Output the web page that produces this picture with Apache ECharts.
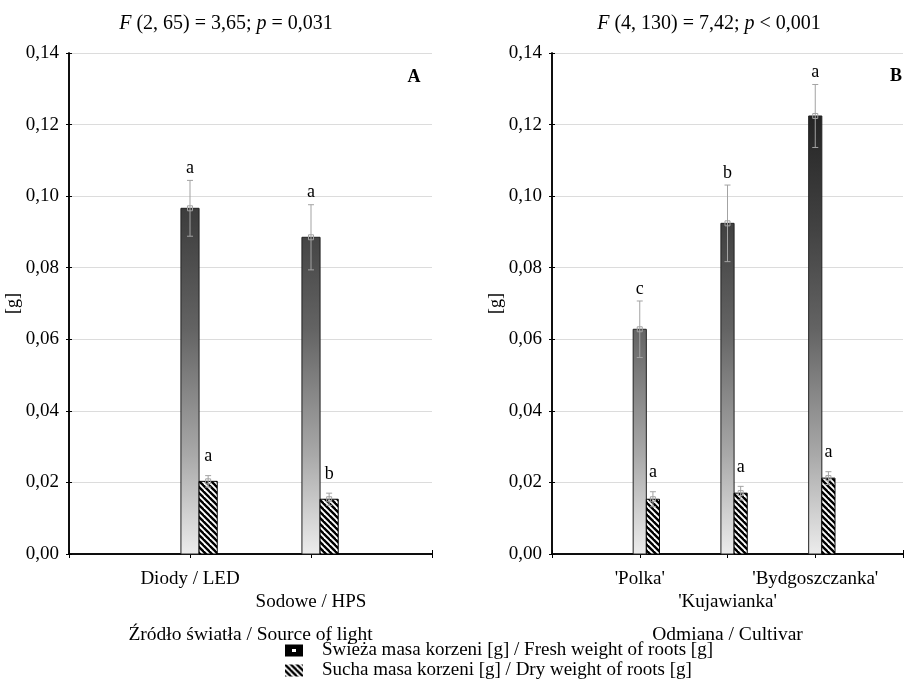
<!DOCTYPE html>
<html>
<head>
<meta charset="utf-8">
<script src="https://cdn.jsdelivr.net/npm/echarts@6/dist/echarts.min.js"></script>
<style>html,body{margin:0;padding:0;background:#fff;}#c{width:906px;height:686px;}</style>
</head>
<body>
<div id="c"></div>
<script>
// ---------- data ----------
const yTickValues = [0, 0.02, 0.04, 0.06, 0.08, 0.10, 0.12, 0.14];
const yTickLabels = ['0,00', '0,02', '0,04', '0,06', '0,08', '0,10', '0,12', '0,14'];

const catsA = ['Diody / LED', 'Sodowe / HPS'];
const freshA = [0.0966, 0.0885];
const freshErrA = [0.0078, 0.0091];
const dryA = [0.0203, 0.0153];
const dryErrA = [0.0016, 0.0017];
const freshLettersA = ['a', 'a'];
const dryLettersA = ['a', 'b'];

const catsB = ["'Polka'", "'Kujawianka'", "'Bydgoszczanka'"];
const freshB = [0.0628, 0.0924, 0.1224];
const freshErrB = [0.0079, 0.0107, 0.0088];
const dryB = [0.0153, 0.0170, 0.0212];
const dryErrB = [0.0021, 0.0019, 0.0018];
const freshLettersB = ['c', 'b', 'a'];
const dryLettersB = ['a', 'a', 'a'];

const seriesFreshName = 'Świeża masa korzeni [g] / Fresh weight of roots [g]';
const seriesDryName = 'Sucha masa korzeni [g] / Dry weight of roots [g]';
const titleA = '{i|F} (2, 65) = 3,65; {i|p} = 0,031';
const titleB = '{i|F} (4, 130) = 7,42; {i|p} < 0,001';
const xNameA = 'Źródło światła / Source of light';
const xNameB = 'Odmiana / Cultivar';

// ---------- styling ----------
const FONT = 'Liberation Serif';
const Y_MAX = 0.14;
const BAR_UNITS = 0.15;

const hatch = document.createElement('canvas');
hatch.width = 6; hatch.height = 6;
(function () {
  const g = hatch.getContext('2d');
  g.fillStyle = '#fff'; g.fillRect(0, 0, 6, 6);
  g.strokeStyle = '#000'; g.lineWidth = 2.4;
  [-6, 0, 6].forEach(k => { g.beginPath(); g.moveTo(k - 1, -1); g.lineTo(k + 7, 7); g.stroke(); });
})();
const hatchFill = { image: hatch, repeat: 'repeat' };
const gradStops = [
  { offset: 0, color: '#141414' },
  { offset: 0.35, color: '#424242' },
  { offset: 0.55, color: '#636363' },
  { offset: 0.8, color: '#a8a8a8' },
  { offset: 1, color: '#ececec' }
];

function makeRender(kind, letters) {
  return function (params, api) {
    const x = api.value(0), v = api.value(1), e = api.value(2);
    const w = api.size([BAR_UNITS, 0])[0];
    const base = api.coord([x, 0]);
    const cx = base[0] + (kind === 'dry' ? w : 0);
    const y0 = base[1];
    const yv = api.coord([x, v])[1];
    const yHi = api.coord([x, v + e])[1];
    const yLo = api.coord([x, v - e])[1];
    const yTop = api.coord([x, Y_MAX])[1];
    const fill = kind === 'fresh'
      ? new echarts.graphic.LinearGradient(0, yTop, 0, y0, gradStops, true)
      : hatchFill;
    const ec = '#a3a3a3';
    const cap = 3;
    const sq = 2.5;
    return {
      type: 'group',
      children: [
        { type: 'rect', shape: { x: cx - w / 2, y: yv, width: w, height: y0 - yv },
          style: { fill: fill, stroke: kind === 'fresh' ? '#222' : '#000', lineWidth: 1 } },
        { type: 'line', shape: { x1: cx, y1: yHi, x2: cx, y2: yLo }, style: { stroke: ec, lineWidth: 1 } },
        { type: 'line', shape: { x1: cx - cap, y1: yHi, x2: cx + cap, y2: yHi }, style: { stroke: ec, lineWidth: 1 } },
        { type: 'line', shape: { x1: cx - cap, y1: yLo, x2: cx + cap, y2: yLo }, style: { stroke: ec, lineWidth: 1 } },
        { type: 'rect', shape: { x: cx - sq, y: yv - sq, width: 2 * sq, height: 2 * sq },
          style: { fill: 'none', stroke: ec, lineWidth: 1 } },
        { type: 'text', x: cx, y: yHi - (kind === 'fresh' ? 12 : 19),
          style: { text: letters[params.dataIndex], fill: '#000', font: '18px "' + FONT + '"',
                   textAlign: 'center', textVerticalAlign: 'middle' } }
      ]
    };
  };
}

function xLabel(cats) {
  return function (val) {
    const i = Math.round(val) - 1;
    if (i < 0 || i >= cats.length) return '';
    return (i % 2 === 1 ? '\n' : '') + cats[i];
  };
}

function yAxes(gridIndex, nameGap) {
  return [
    { type: 'value', gridIndex, min: 0, max: Y_MAX, interval: 0.02, position: 'left',
      name: '[g]', nameLocation: 'middle', nameGap: nameGap, nameRotate: 90,
      nameTextStyle: { fontFamily: FONT, fontSize: 18, color: '#000' },
      axisLine: { show: true, lineStyle: { color: '#000', width: 1.5 } },
      axisTick: { show: true, length: 3, lineStyle: { color: '#000' } },
      axisLabel: { margin: 10, fontFamily: FONT, fontSize: 19, color: '#000',
        formatter: v => yTickLabels[yTickValues.findIndex(t => Math.abs(t - v) < 1e-9)] },
      splitLine: { show: true, lineStyle: { color: '#dcdcdc', width: 1 } } },
    { type: 'value', gridIndex, min: 0, max: Y_MAX, interval: 0.02, position: 'right',
      axisLine: { show: true, lineStyle: { color: '#000', width: 1.5 } },
      axisTick: { show: true, length: 3, lineStyle: { color: '#000' } },
      axisLabel: { show: false }, splitLine: { show: false } }
  ];
}

function xAxes(gridIndex, cats, name) {
  const max = cats.length + 1;
  return [
    { type: 'value', gridIndex, min: 0, max: max, interval: 1, position: 'bottom',
      name: name, nameLocation: 'middle', nameGap: 71,
      nameTextStyle: { fontFamily: FONT, fontSize: 19.5, color: '#000' },
      axisLine: { show: true, lineStyle: { color: '#000', width: 1.5 } },
      axisTick: { show: true, inside: true, length: 4, lineStyle: { color: '#000' } },
      axisLabel: { margin: 14, fontFamily: FONT, fontSize: 19, lineHeight: 23, color: '#000',
        formatter: xLabel(cats), showMinLabel: true, showMaxLabel: true },
      splitLine: { show: false } },
    { type: 'value', gridIndex, min: 0, max: max, interval: 1, position: 'top',
      axisLine: { show: true, lineStyle: { color: '#000', width: 1.5 } },
      axisTick: { show: true, inside: true, length: 4, lineStyle: { color: '#000' } },
      axisLabel: { show: false }, splitLine: { show: false } }
  ];
}

const legendText = { fontFamily: FONT, fontSize: 19, color: '#000', padding: [0, 0, 0, 14] };

const chart = echarts.init(document.getElementById('c'), null, { renderer: 'canvas' });

const option = {
  backgroundColor: '#fff',
  animation: false,
  grid: [
    { left: 69, top: 53, width: 363, height: 501 },
    { left: 552, top: 53, width: 362, height: 501 }
  ],
  xAxis: [].concat(xAxes(0, catsA, xNameA), xAxes(1, catsB, xNameB)),
  yAxis: [].concat(yAxes(0, 40), yAxes(1, 42)),
  legend: [
    { left: 285, top: 641, padding: 0, itemWidth: 18, itemHeight: 12, textStyle: legendText,
      data: [{ name: seriesFreshName, icon: 'path://M0,0L18,0L18,12L0,12Z M7,4.5L7,7.5L11,7.5L11,4.5Z',
        itemStyle: { color: '#000' } }] },
    { left: 285, top: 661, padding: 0, itemWidth: 18, itemHeight: 12, textStyle: legendText,
      data: [{ name: seriesDryName, icon: 'rect', itemStyle: { color: hatchFill } }] }
  ],
  graphic: [
    { type: 'text', x: 226, y: 24, style: { text: titleA, fill: '#000', font: '20px "' + FONT + '"',
      textAlign: 'center', textVerticalAlign: 'middle',
      rich: { i: { fontStyle: 'italic', fontFamily: FONT, fontSize: 20 } } } },
    { type: 'text', x: 709, y: 24, style: { text: titleB, fill: '#000', font: '20px "' + FONT + '"',
      textAlign: 'center', textVerticalAlign: 'middle',
      rich: { i: { fontStyle: 'italic', fontFamily: FONT, fontSize: 20 } } } },
    { type: 'text', x: 414, y: 77, style: { text: 'A', fill: '#000', font: 'bold 18px "' + FONT + '"',
      textAlign: 'center', textVerticalAlign: 'middle' } },
    { type: 'text', x: 896, y: 76, style: { text: 'B', fill: '#000', font: 'bold 18px "' + FONT + '"',
      textAlign: 'center', textVerticalAlign: 'middle' } }
  ],
  series: [
    { type: 'custom', name: seriesFreshName, xAxisIndex: 0, yAxisIndex: 0, clip: false,
      itemStyle: { color: '#000' },
      renderItem: makeRender('fresh', freshLettersA), encode: { x: 0, y: 1 },
      data: freshA.map((v, i) => [i + 1, v, freshErrA[i]]) },
    { type: 'custom', name: seriesDryName, xAxisIndex: 0, yAxisIndex: 0, clip: false,
      itemStyle: { color: hatchFill },
      renderItem: makeRender('dry', dryLettersA), encode: { x: 0, y: 1 },
      data: dryA.map((v, i) => [i + 1, v, dryErrA[i]]) },
    { type: 'custom', name: seriesFreshName, xAxisIndex: 2, yAxisIndex: 2, clip: false,
      itemStyle: { color: '#000' },
      renderItem: makeRender('fresh', freshLettersB), encode: { x: 0, y: 1 },
      data: freshB.map((v, i) => [i + 1, v, freshErrB[i]]) },
    { type: 'custom', name: seriesDryName, xAxisIndex: 2, yAxisIndex: 2, clip: false,
      itemStyle: { color: hatchFill },
      renderItem: makeRender('dry', dryLettersB), encode: { x: 0, y: 1 },
      data: dryB.map((v, i) => [i + 1, v, dryErrB[i]]) }
  ]
};
chart.setOption(option);
</script>
</body>
</html>
